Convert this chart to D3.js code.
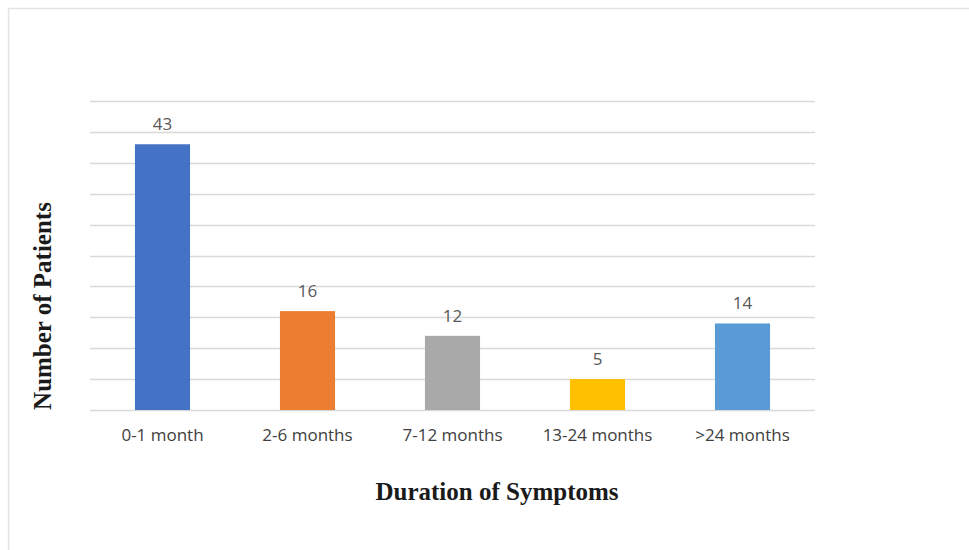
<!DOCTYPE html>
<html>
<head>
<meta charset="utf-8">
<script src="https://cdn.jsdelivr.net/npm/d3@7"></script>
<style>
  body { margin: 0; background: #fff; }
</style>
</head>
<body>
<svg id="chart" width="969" height="550"></svg>
<script>
// Data
var categories = ["0-1 month", "2-6 months", "7-12 months", "13-24 months", ">24 months"];
var patients = [43, 16, 12, 5, 14];
var barColors = ["#4472C4", "#ED7D31", "#A9A9A9", "#FFC000", "#5B9BD5"];
var yTicks = [0, 5, 10, 15, 20, 25, 30, 35, 40, 45, 50];

var svg = d3.select("#chart");

// light frame around the figure
svg.append("rect")
  .attr("x", 8.5).attr("y", 8.5)
  .attr("width", 1000).attr("height", 600)
  .attr("fill", "none")
  .attr("stroke", "#e4e4e4")
  .attr("stroke-width", 1.5);

var plotLeft = 90, plotRight = 815, plotTop = 101, plotBottom = 410;

var x = d3.scaleBand()
  .domain(categories)
  .range([plotLeft, plotRight])
  .paddingInner(0.62)
  .paddingOuter(0.31);

var y = d3.scaleLinear()
  .domain([0, 50])
  .range([plotBottom, plotTop]);

// gridlines
svg.append("g")
  .selectAll("line")
  .data(yTicks)
  .join("line")
  .attr("x1", plotLeft).attr("x2", plotRight)
  .attr("y1", function (d) { return Math.round(y(d)) + 0.5; })
  .attr("y2", function (d) { return Math.round(y(d)) + 0.5; })
  .attr("stroke", "#d9d9d9")
  .attr("stroke-width", 1.5);

// bars
svg.append("g")
  .selectAll("rect")
  .data(patients)
  .join("rect")
  .attr("x", function (d, i) { return x(categories[i]); })
  .attr("y", function (d) { return y(d); })
  .attr("width", x.bandwidth())
  .attr("height", function (d) { return plotBottom - y(d); })
  .attr("fill", function (d, i) { return barColors[i]; });

// value labels
svg.append("g")
  .selectAll("text")
  .data(patients)
  .join("text")
  .attr("x", function (d, i) { return x(categories[i]) + x.bandwidth() / 2; })
  .attr("y", function (d) { return y(d) - 14; })
  .attr("text-anchor", "middle")
  .attr("font-family", "Open Sans, sans-serif")
  .attr("font-size", 17)
  .attr("fill", "#595959")
  .text(function (d) { return d; });

// x axis
var xAxis = svg.append("g")
  .attr("transform", "translate(0," + plotBottom + ")")
  .call(d3.axisBottom(x).tickSize(0).tickPadding(19));
xAxis.select(".domain").remove();
xAxis.selectAll("text")
  .attr("font-family", "Open Sans, sans-serif")
  .attr("font-size", 17)
  .attr("fill", "#404040");

// axis titles
svg.append("text")
  .attr("x", 497).attr("y", 500)
  .attr("text-anchor", "middle")
  .attr("font-family", "Liberation Serif, Times New Roman, serif")
  .attr("font-weight", "bold")
  .attr("font-size", 25)
  .attr("fill", "#1a1a1a")
  .text("Duration of Symptoms");

svg.append("text")
  .attr("transform", "translate(51,306) rotate(-90)")
  .attr("text-anchor", "middle")
  .attr("font-family", "Liberation Serif, Times New Roman, serif")
  .attr("font-weight", "bold")
  .attr("font-size", 25)
  .attr("fill", "#1a1a1a")
  .text("Number of Patients");
</script>
</body>
</html>
